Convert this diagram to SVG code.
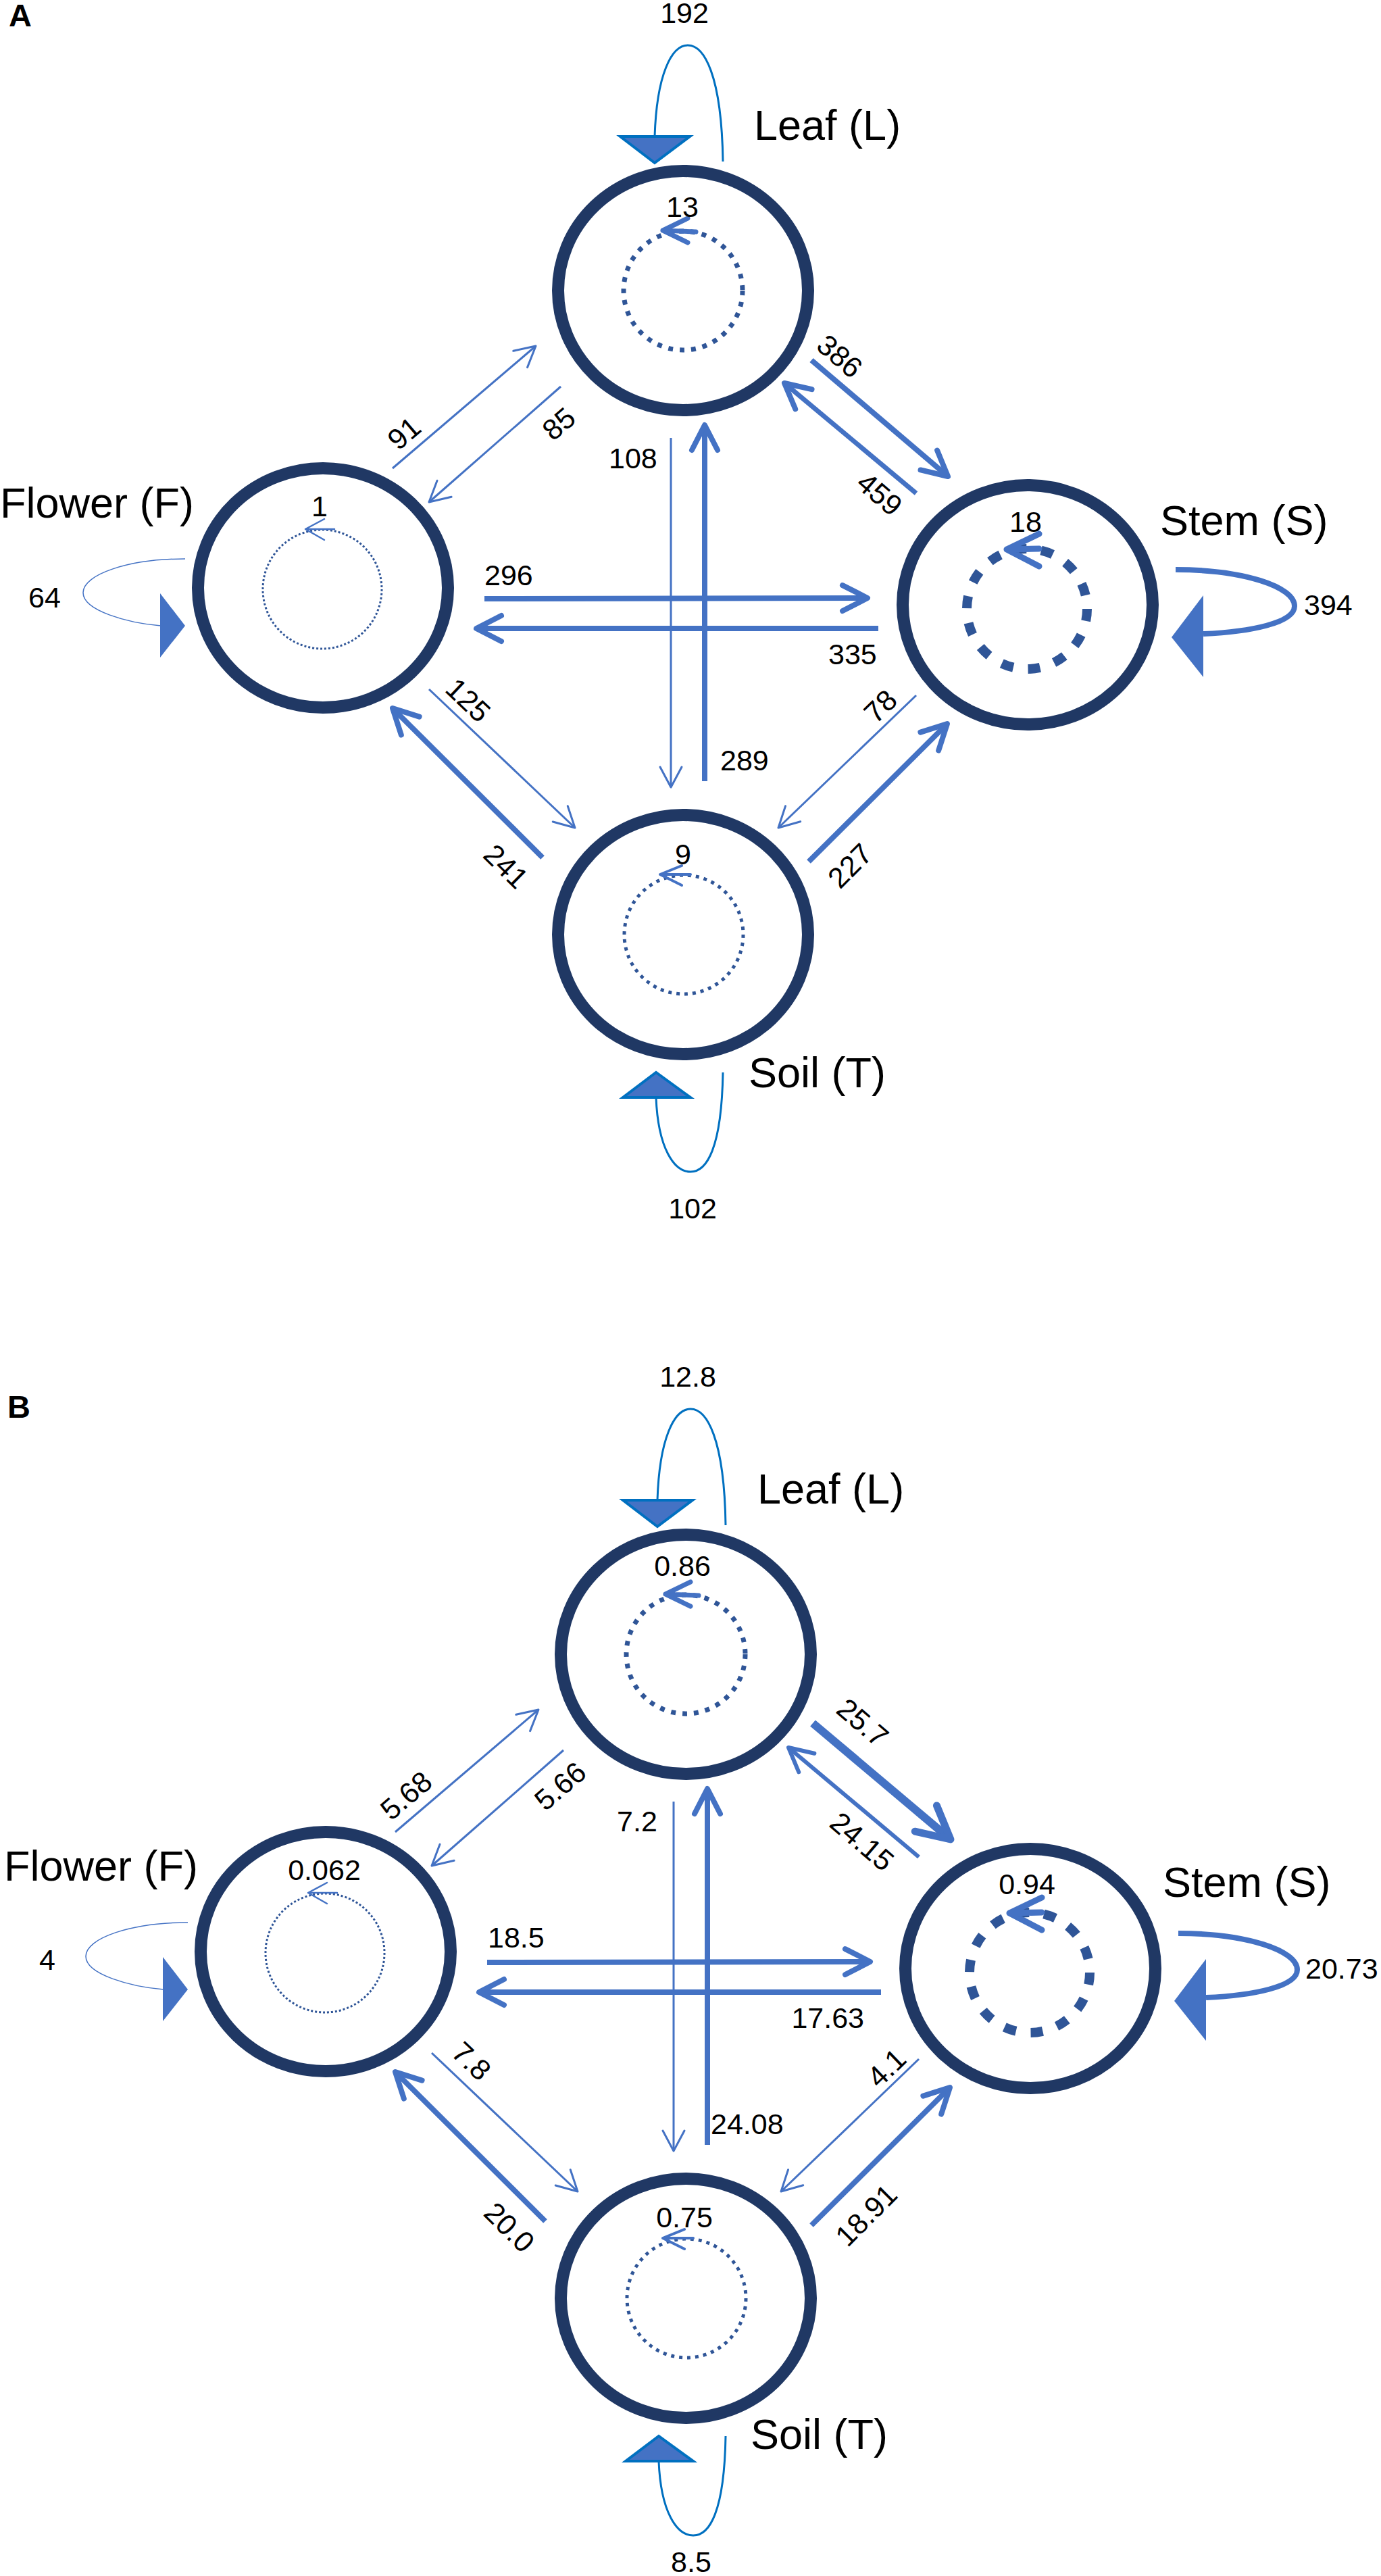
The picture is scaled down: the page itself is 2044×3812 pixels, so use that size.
<svg xmlns="http://www.w3.org/2000/svg" width="2044" height="3812" viewBox="0 0 2044 3812">
<style>
.bg{fill:#ffffff}
.node{fill:none;stroke:#203864;stroke-width:18}
.in{fill:none;stroke:#2F5597}
.t{font-family:'Liberation Sans',Arial,sans-serif;fill:#000000}
.num{font-size:43px}
.lbl{font-size:63px}
.panel{font-size:47px;font-weight:bold}
.thin{fill:none;stroke:#4472C4;stroke-width:3}
.thick{fill:none;stroke:#4472C4;stroke-width:8}
.ia{fill:none;stroke:#4472C4;stroke-linecap:round;stroke-linejoin:round}
.loopB{fill:none;stroke:#0070C0;stroke-width:3}
.triB{fill:#4472C4;stroke:#0070C0;stroke-width:4}
.tri{fill:#4472C4}
</style>
<defs>
<marker id="hThin" markerUnits="userSpaceOnUse" orient="auto" overflow="visible" markerWidth="1" markerHeight="1" refX="0" refY="0"><path d="M-30,-16 L0,0 L-30,16" fill="none" stroke="#4472C4" stroke-width="3" stroke-linecap="round" stroke-linejoin="round"/></marker>
<marker id="hThick" markerUnits="userSpaceOnUse" orient="auto" overflow="visible" markerWidth="1" markerHeight="1" refX="0" refY="0"><path d="M-37,-19 L0,0 L-37,19" fill="none" stroke="#4472C4" stroke-width="8" stroke-linecap="round" stroke-linejoin="round"/></marker>
<marker id="hMid" markerUnits="userSpaceOnUse" orient="auto" overflow="visible" markerWidth="1" markerHeight="1" refX="0" refY="0"><path d="M-35,-18 L0,0 L-35,18" fill="none" stroke="#4472C4" stroke-width="6" stroke-linecap="round" stroke-linejoin="round"/></marker>
<marker id="hBig" markerUnits="userSpaceOnUse" orient="auto" overflow="visible" markerWidth="1" markerHeight="1" refX="0" refY="0"><path d="M-48,-25 L0,0 L-48,25" fill="none" stroke="#4472C4" stroke-width="11" stroke-linecap="round" stroke-linejoin="round"/></marker>
</defs>
<rect class="bg" x="0" y="0" width="2044" height="3812"/>

<!-- ================= PANEL A ================= -->
<g id="panelA">
<text class="t panel" x="13" y="39">A</text>
<g id="A-connectors">
<line class="thin" x1="581" y1="693" x2="793" y2="512" marker-end="url(#hThin)"/>
<line class="thin" x1="830" y1="572" x2="635" y2="743" marker-end="url(#hThin)"/>
<line class="thin" x1="993" y1="648" x2="993" y2="1165" marker-end="url(#hThin)"/>
<line class="thick" x1="1043" y1="1156" x2="1043" y2="629" marker-end="url(#hThick)"/>
<line class="thick" x1="717" y1="886" x2="1284" y2="885" marker-end="url(#hThick)"/>
<line class="thick" x1="1300" y1="930" x2="705" y2="930" marker-end="url(#hThick)"/>
<line class="thin" x1="635" y1="1020" x2="851" y2="1225" marker-end="url(#hThin)"/>
<line class="thick" x1="803" y1="1269" x2="581" y2="1048" marker-end="url(#hThick)"/>
<line class="thick" x1="1201" y1="533" x2="1403" y2="705" marker-end="url(#hThick)"/>
<line class="thick" style="stroke-width:7" x1="1356" y1="730" x2="1161" y2="567" marker-end="url(#hThick)"/>
<line class="thin" x1="1356" y1="1029" x2="1152" y2="1225" marker-end="url(#hThin)"/>
<line class="thick" x1="1197" y1="1275" x2="1402" y2="1071" marker-end="url(#hThick)"/>
<path class="loopB" d="M1070,239 C1068,110 1042,67 1018,67 C994,67 972,110 969,202"/>
<polygon class="triB" points="918,202 1021,202 969,241"/>
<path class="loopB" d="M1070,1587 C1068,1700 1046,1734 1022,1734 C998,1734 974,1700 971,1624"/>
<polygon class="triB" points="922,1624 1022,1624 971,1587"/>
<path fill="none" stroke="#4472C4" stroke-width="1.5" d="M274,827 C190,827 123,850 123,877 C123,904 190,922 238,926"/>
<polygon class="tri" points="237,878 274,926 237,973"/>
<path fill="none" stroke="#4472C4" stroke-width="8" d="M1740,843 C1840,843 1916,868 1916,897 C1916,922 1850,935 1781,938"/>
<polygon class="tri" points="1781,881 1734,943 1781,1002"/>
<g class="t num">
<text x="1013" y="34" text-anchor="middle">192</text>
<text x="1025" y="1803" text-anchor="middle">102</text>
<text x="42" y="899">64</text>
<text x="1930" y="910">394</text>
<text transform="translate(598,641) rotate(-40.5)" y="15" text-anchor="middle">91</text>
<text transform="translate(827,627) rotate(-40.5)" y="15" text-anchor="middle">85</text>
<text x="901" y="693">108</text>
<text x="1066" y="1140">289</text>
<text x="717" y="866">296</text>
<text x="1226" y="983">335</text>
<text transform="translate(693,1036) rotate(43.5)" y="15" text-anchor="middle">125</text>
<text transform="translate(749,1282) rotate(44.5)" y="15" text-anchor="middle">241</text>
<text transform="translate(1243,527) rotate(40.6)" y="15" text-anchor="middle">386</text>
<text transform="translate(1302,731) rotate(40.6)" y="15" text-anchor="middle">459</text>
<text transform="translate(1303,1045) rotate(-44)" y="15" text-anchor="middle">78</text>
<text transform="translate(1258,1281) rotate(-45)" y="15" text-anchor="middle">227</text>
</g>
</g>
<g id="A-leaf">
<ellipse class="node" cx="1011" cy="430" rx="185" ry="177"/>
<circle class="in" cx="1011" cy="430" r="88" stroke-width="7" stroke-dasharray="7 10"/>
<path class="ia" stroke-width="7" d="M1030,343 L981,341 M1018,323 L981,341 L1018,359"/>
<text class="t num" x="1010" y="321" text-anchor="middle">13</text>
<text class="t lbl" x="1116" y="207">Leaf (L)</text>
</g>
<g id="A-flower">
<ellipse class="node" cx="478" cy="870" rx="185" ry="177"/>
<circle class="in" cx="477" cy="872" r="88" stroke-width="3" stroke-dasharray="3 3"/>
<path class="ia" stroke-width="2.5" d="M495,783 L452,783 M480,768 L452,783 L480,799"/>
<text class="t num" x="473" y="764" text-anchor="middle">1</text>
<text class="t lbl" x="0" y="766">Flower (F)</text>
</g>
<g id="A-stem">
<ellipse class="node" cx="1521" cy="895" rx="185" ry="177"/>
<circle class="in" cx="1520" cy="901" r="89" stroke-width="14" stroke-dasharray="18 22"/>
<path class="ia" stroke-width="9" d="M1538,812 L1490,813 M1538,790 L1490,813 L1538,838"/>
<text class="t num" x="1518" y="787" text-anchor="middle">18</text>
<text class="t lbl" x="1717" y="792">Stem (S)</text>
</g>
<g id="A-soil">
<ellipse class="node" cx="1011" cy="1383" rx="185" ry="177"/>
<circle class="in" cx="1012" cy="1383" r="88" stroke-width="5" stroke-dasharray="5 7"/>
<path class="ia" stroke-width="4" d="M1022,1294 L977,1294 M1009,1281 L977,1294 L1009,1310"/>
<text class="t num" x="1011" y="1279" text-anchor="middle">9</text>
<text class="t lbl" x="1108" y="1609">Soil (T)</text>
</g>
</g>

<!-- ================= PANEL B ================= -->
<g id="panelB">
<text class="t panel" x="11" y="2098">B</text>
<g transform="translate(4,2018)">
<g id="B-connectors">
<line class="thin" x1="581" y1="693" x2="793" y2="512" marker-end="url(#hThin)"/>
<line class="thin" x1="830" y1="572" x2="635" y2="743" marker-end="url(#hThin)"/>
<line class="thin" x1="993" y1="648" x2="993" y2="1165" marker-end="url(#hThin)"/>
<line class="thick" x1="1043" y1="1156" x2="1043" y2="629" marker-end="url(#hThick)"/>
<line class="thick" x1="717" y1="886" x2="1284" y2="885" marker-end="url(#hThick)"/>
<line class="thick" x1="1300" y1="930" x2="705" y2="930" marker-end="url(#hThick)"/>
<line class="thin" x1="635" y1="1020" x2="851" y2="1225" marker-end="url(#hThin)"/>
<line class="thick" x1="803" y1="1269" x2="581" y2="1048" marker-end="url(#hThick)"/>
<line class="thick" style="stroke-width:12" x1="1199" y1="532" x2="1403" y2="704" marker-end="url(#hBig)"/>
<line class="thick" style="stroke-width:6" x1="1356" y1="730" x2="1163" y2="568" marker-end="url(#hMid)"/>
<line class="thin" x1="1356" y1="1029" x2="1152" y2="1225" marker-end="url(#hThin)"/>
<line class="thick" x1="1197" y1="1275" x2="1402" y2="1071" marker-end="url(#hThick)"/>
<path class="loopB" d="M1070,239 C1068,110 1042,67 1018,67 C994,67 972,110 969,202"/>
<polygon class="triB" points="918,202 1021,202 969,241"/>
<path class="loopB" d="M1070,1587 C1068,1700 1046,1734 1022,1734 C998,1734 974,1700 971,1624"/>
<polygon class="triB" points="922,1624 1022,1624 971,1587"/>
<path fill="none" stroke="#4472C4" stroke-width="1.5" d="M274,827 C190,827 123,850 123,877 C123,904 190,922 238,926"/>
<polygon class="tri" points="237,878 274,926 237,973"/>
<path fill="none" stroke="#4472C4" stroke-width="8" d="M1740,843 C1840,843 1916,868 1916,897 C1916,922 1850,935 1781,938"/>
<polygon class="tri" points="1781,881 1734,943 1781,1002"/>
<g class="t num">
<text x="1014" y="34" text-anchor="middle">12.8</text>
<text x="1019" y="1788" text-anchor="middle">8.5</text>
<text x="66" y="897" text-anchor="middle">4</text>
<text x="1928" y="910">20.73</text>
<text transform="translate(597,639) rotate(-40.5)" y="15" text-anchor="middle">5.68</text>
<text transform="translate(825,625) rotate(-40.5)" y="15" text-anchor="middle">5.66</text>
<text x="939" y="692" text-anchor="middle">7.2</text>
<text x="1048" y="1140">24.08</text>
<text x="718" y="864">18.5</text>
<text x="1275" y="983" text-anchor="end">17.63</text>
<text transform="translate(694,1032) rotate(43.5)" y="15" text-anchor="middle">7.8</text>
<text transform="translate(750,1278) rotate(44.5)" y="15" text-anchor="middle">20.0</text>
<text transform="translate(1273,531) rotate(40.6)" y="15" text-anchor="middle">25.7</text>
<text transform="translate(1272,707) rotate(40.6)" y="15" text-anchor="middle">24.15</text>
<text transform="translate(1308,1042) rotate(-44)" y="15" text-anchor="middle">4.1</text>
<text transform="translate(1278,1260) rotate(-45)" y="15" text-anchor="middle">18.91</text>
</g>
</g>
<g id="B-leaf">
<ellipse class="node" cx="1011" cy="430" rx="185" ry="177"/>
<circle class="in" cx="1011" cy="430" r="88" stroke-width="7" stroke-dasharray="7 10"/>
<path class="ia" stroke-width="7" d="M1030,343 L981,341 M1018,323 L981,341 L1018,359"/>
<text class="t num" x="1006" y="314" text-anchor="middle">0.86</text>
<text class="t lbl" x="1117" y="207">Leaf (L)</text>
</g>
<g id="B-flower">
<ellipse class="node" cx="478" cy="870" rx="185" ry="177"/>
<circle class="in" cx="477" cy="872" r="88" stroke-width="3" stroke-dasharray="3 3"/>
<path class="ia" stroke-width="2.5" d="M495,783 L452,783 M480,768 L452,783 L480,799"/>
<text class="t num" x="476" y="764" text-anchor="middle">0.062</text>
<text class="t lbl" x="2" y="765">Flower (F)</text>
</g>
<g id="B-stem">
<ellipse class="node" cx="1521" cy="895" rx="185" ry="177"/>
<circle class="in" cx="1520" cy="901" r="89" stroke-width="14" stroke-dasharray="18 22"/>
<path class="ia" stroke-width="9" d="M1538,812 L1490,813 M1538,790 L1490,813 L1538,838"/>
<text class="t num" x="1516" y="785" text-anchor="middle">0.94</text>
<text class="t lbl" x="1717" y="789">Stem (S)</text>
</g>
<g id="B-soil">
<ellipse class="node" cx="1011" cy="1383" rx="185" ry="177"/>
<circle class="in" cx="1012" cy="1383" r="88" stroke-width="5" stroke-dasharray="5 7"/>
<path class="ia" stroke-width="4" d="M1022,1294 L977,1294 M1009,1281 L977,1294 L1009,1310"/>
<text class="t num" x="1009" y="1278" text-anchor="middle">0.75</text>
<text class="t lbl" x="1107" y="1606">Soil (T)</text>
</g>
</g>
</g>
</svg>
